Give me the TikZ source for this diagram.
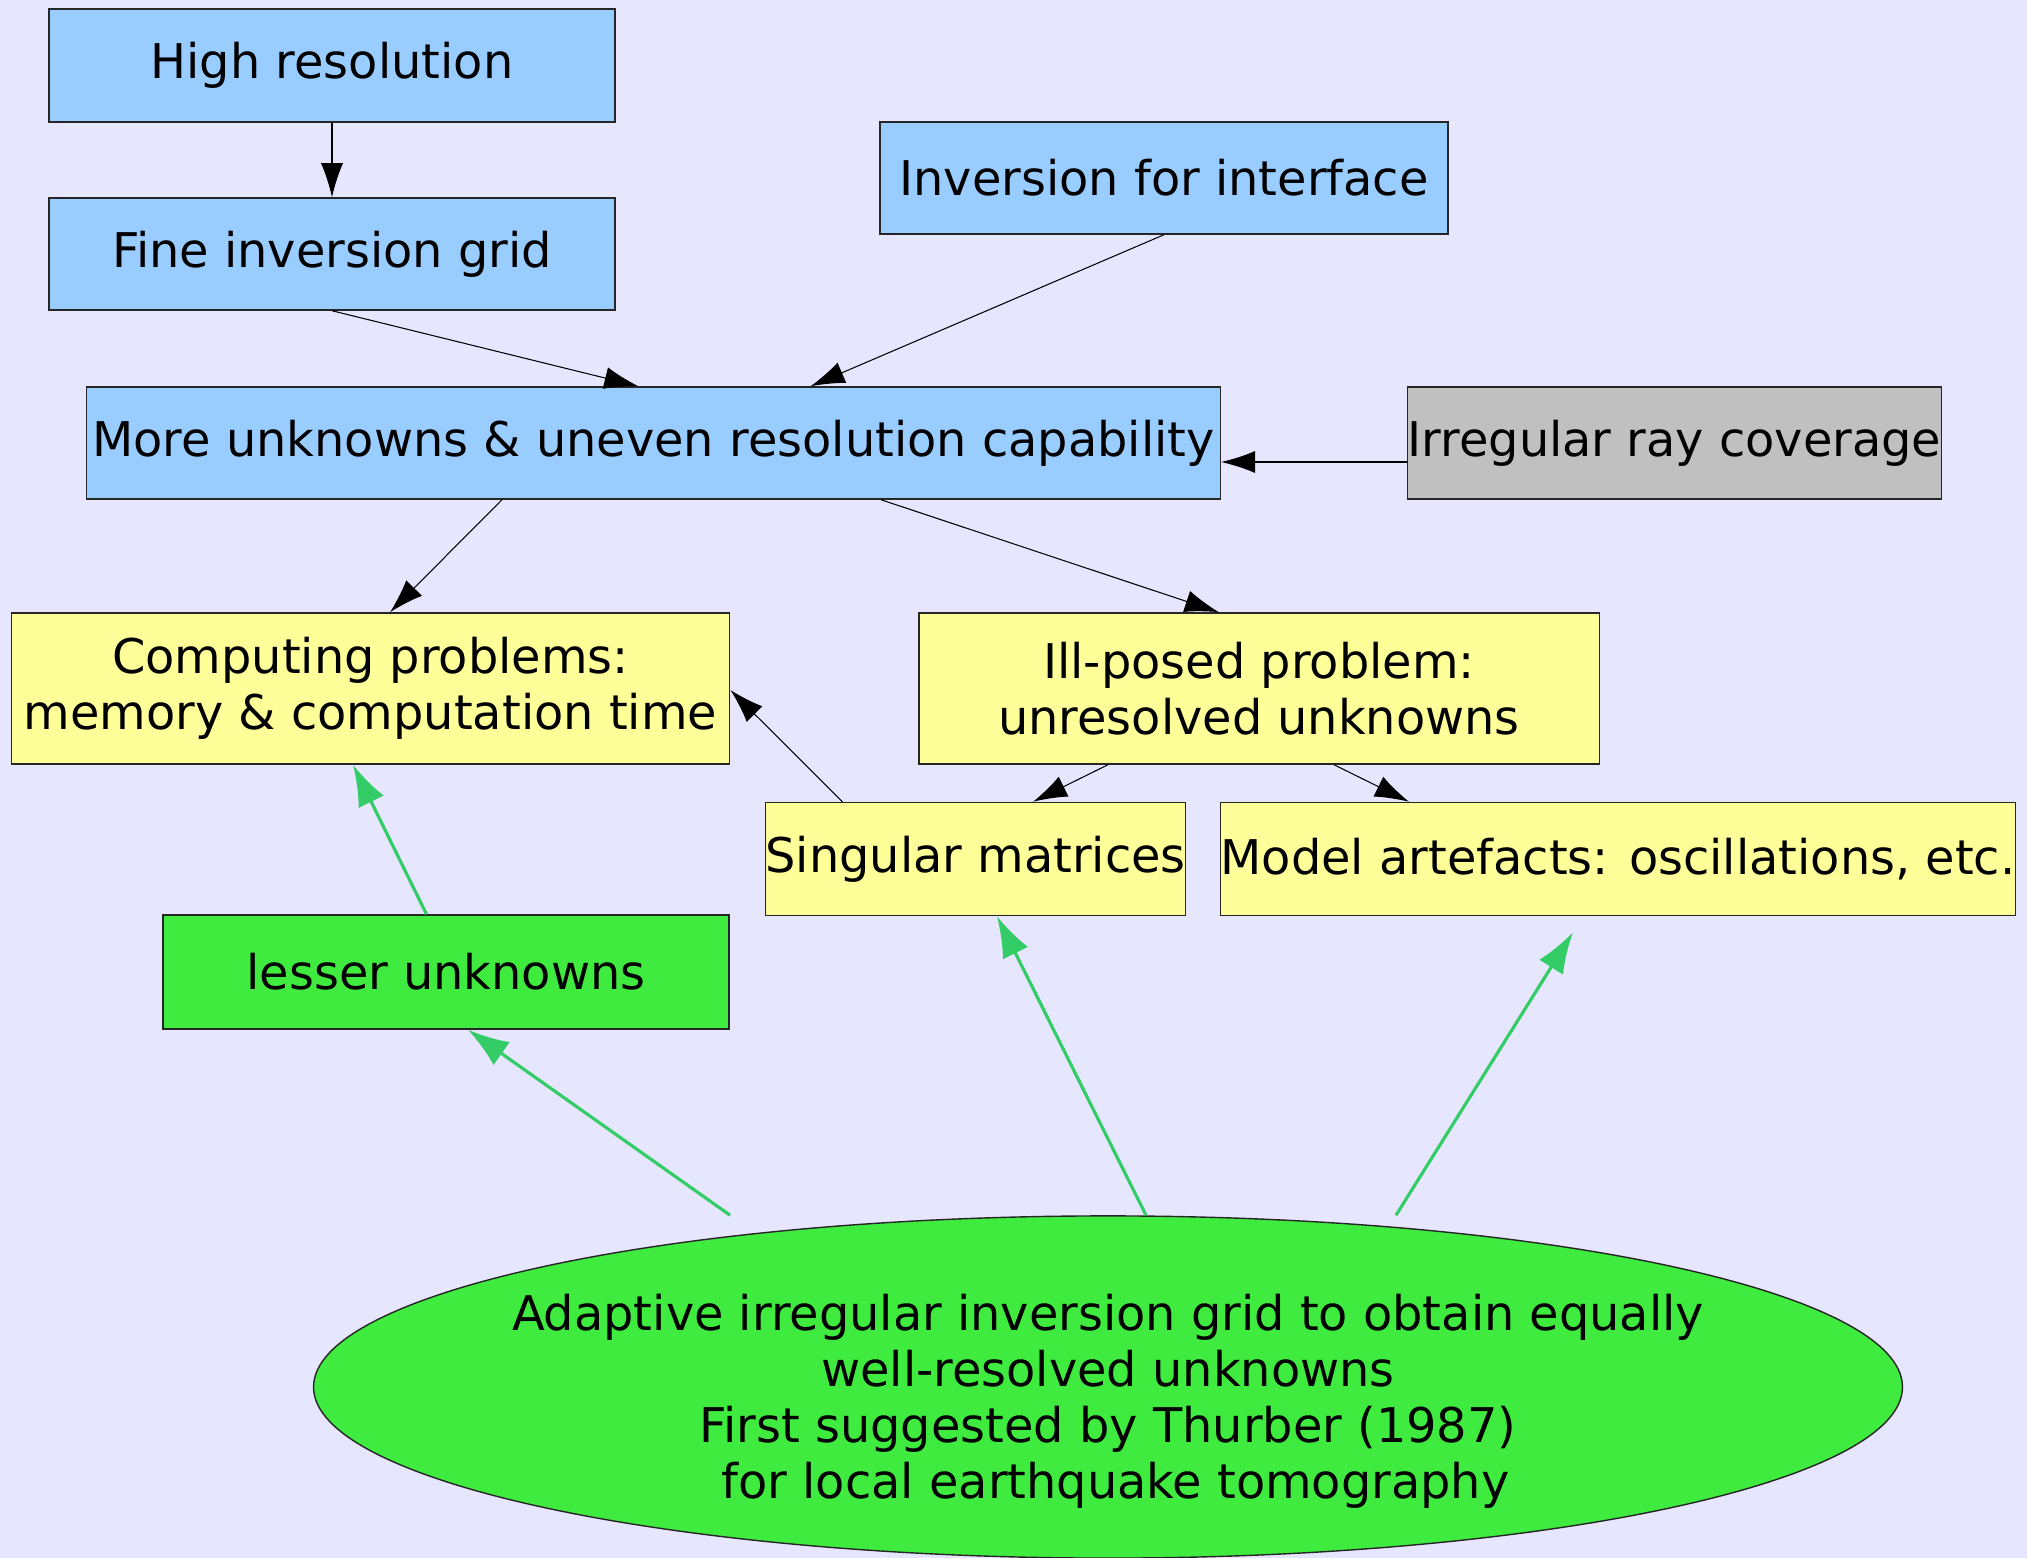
\documentclass[tikz,border=0pt]{standalone}
\usepackage{fontspec}
\setmainfont{DejaVu Sans}
\usetikzlibrary{arrows.meta,shapes.geometric,calc}

\definecolor{bgcol}{HTML}{E6E6FF}
\definecolor{bluefill}{HTML}{99CCFF}
\definecolor{grayfill}{HTML}{C0C0C0}
\definecolor{yellowfill}{HTML}{FFFF99}
\definecolor{greenfill}{HTML}{3FEB3F}
\definecolor{greenline}{HTML}{33CC66}

\begin{document}
\begin{tikzpicture}[x=0.01cm, y=-0.01cm,
    txt/.style={inner sep=0pt, align=center, font=\fontsize{13.6pt}{15.9pt}\selectfont},
    box/.style={txt, draw=black!85, line width=0.4pt},
    bluebox/.style={box, fill=bluefill},
    graybox/.style={box, fill=grayfill},
    yellowbox/.style={box, fill=yellowfill},
    greenbox/.style={box, fill=greenfill},
    link/.style={line width=0.3pt, -{Latex[length=9.7pt,width=6.3pt]}},
    glink/.style={draw=greenline, line width=0.9pt, -{Latex[length=11.7pt,width=8pt]}}]

        % Background and page size
        \path[use as bounding box, fill=bgcol] (0,0) rectangle (2027,1558);

        % Top row
        \node[bluebox, minimum width=5.66cm, minimum height=1.13cm] (high) at (332,65.5) {High resolution};
        \node[bluebox, minimum width=5.66cm, minimum height=1.12cm] (fine) at (332,254) {Fine inversion grid};
        \node[bluebox, minimum width=5.68cm, minimum height=1.12cm] (iface) at (1164,178) {Inversion for interface};

        % Middle row
        \node[bluebox, minimum width=11.33cm, minimum height=1.12cm] (more) at (653.5,443) {More unknowns \& uneven resolution capability};
        \node[graybox, minimum width=5.29cm, minimum height=1.12cm] (irr) at (1674.5,443) {Irregular ray coverage};

        % Problems
        \node[yellowbox, minimum width=7.18cm, minimum height=1.51cm] (comp) at (370.5,688.5) {Computing problems:\\memory \& computation time};
        \node[yellowbox, minimum width=6.80cm, minimum height=1.51cm] (ill) at (1259,688.5) {Ill-posed problem:\\unresolved unknowns};
        \node[yellowbox, minimum width=4.15cm, minimum height=1.13cm] (sing) at (975.5,859) {Singular matrices};
        \node[yellowbox, minimum width=7.93cm, minimum height=1.13cm] (model) at (1618,859) {Model artefacts: oscillations, etc.};

        % Remedy
        \node[greenbox, minimum width=5.66cm, minimum height=1.14cm] (lesser) at (446,972) {lesser unknowns};
        \node[greenbox, ellipse, minimum width=15.88cm, minimum height=3.42cm] (adapt) at (1108,1387) {};
        \node[txt] (adapttext) at ($(adapt.center)+(0,14)$)
            {Adaptive irregular inversion grid to obtain equally\\well-resolved unknowns\\First suggested by Thurber (1987)\\\hspace*{0.318em}for local earthquake tomography};

        % Black arrows
        \draw[link] (high.south) -- (fine.north);
        \draw[link] (fine.south) -- ($(more.north)+(-15,0)$);
        \draw[link] (iface.south) -- ($(more.north)+(157,0)$);
        \draw[link] ($(irr.west)+(0,19)$) -- ($(more.east)+(0,19)$);
        \draw[link] ($(more.south)+(-151.5,0)$) -- ($(comp.north)+(19.5,0)$);
        \draw[link] ($(more.south)+(227.5,0)$) -- ($(ill.north)+(-40,0)$);
        \draw[link] ($(ill.south)+(-151,0)$) -- ($(sing.north)+(57.5,0)$);
        \draw[link] ($(ill.south)+(75,0)$) -- ($(model.north)+(-209,0)$);
        \draw[link] ($(sing.north)+(-133,0)$) -- ($(comp.east)+(0,1.5)$);

        % Green arrows
        \coordinate (free) at ($(model.south)+(-45,16)$);
        \draw[glink] ($(lesser.north)+(-19.5,0)$) -- ($(comp.south)+(-17.5,0)$);
        \draw[glink] ($(adapt.north)+(-378,0)$) -- ($(lesser.south)+(22,0)$);
        \draw[glink] ($(adapt.north)+(38,0)$) -- ($(sing.south)+(21.5,0)$);
        \draw[glink] ($(adapt.north)+(288,0)$) -- (free);

\end{tikzpicture}
\end{document}
